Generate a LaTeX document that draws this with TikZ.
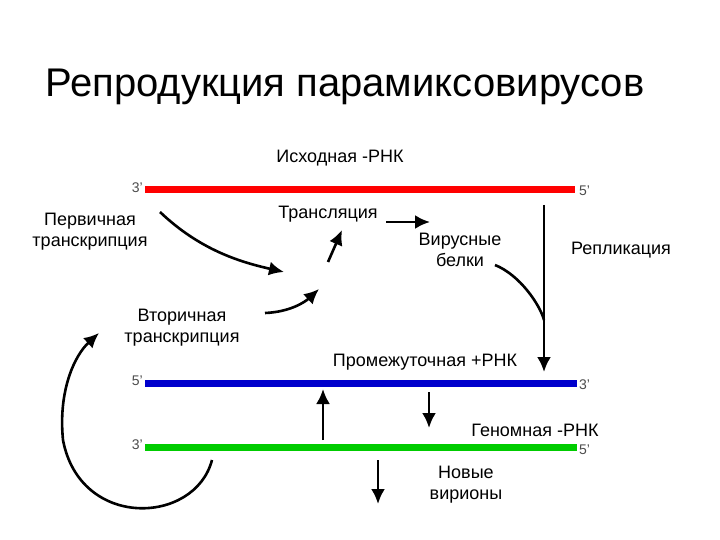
\documentclass[tikz,border=0pt]{standalone}
\usepackage{fontspec}
\setmainfont{Liberation Sans}
\begin{document}
\begin{tikzpicture}[x=1pt,y=-1pt,
 lbl/.style={font=\fontsize{18}{21}\selectfont,align=center,inner sep=0pt},
 end/.style={font=\fontsize{14}{15}\selectfont,text=black!70,inner sep=0pt},
 strand/.style={line width=7pt},
 arr/.style={line width=2.6pt,-{Latex[length=15pt,width=14pt]}}]
\usetikzlibrary{arrows.meta}
\useasboundingbox (0,0) rectangle (720,540);
\node[anchor=base west,inner sep=0pt,font=\fontsize{40}{46}\selectfont] (title) at (45,97) {Репродукция парамиксовирусов};
\node[lbl] (src) at (340,158) {Исходная -РНК};
% strands
\coordinate (r1) at (145,190); \coordinate (r2) at (575,190);
\coordinate (b1) at (145,383); \coordinate (b2) at (577,383);
\coordinate (g1) at (145,447); \coordinate (g2) at (577,447);
\draw[strand,red] (r1) -- (r2);
\draw[strand,blue!80!black] (b1) -- (b2);
\draw[strand,green!80!black] (g1) -- (g2);
\node[end,anchor=east] (r3) at (143,188) {3'};
\node[end,anchor=west] (r5) at (579,191) {5'};
\node[end,anchor=east] (b5) at (143,381) {5'};
\node[end,anchor=west] (b3) at (579,385) {3'};
\node[end,anchor=east] (g3) at (143,445) {3'};
\node[end,anchor=west] (g5) at (579,450) {5'};
% labels
\node[lbl] (prim) at (90,232) {Первичная\\транскрипция};
\node[lbl] (tr) at (328,214) {Трансляция};
\node[lbl] (vp) at (460,250) {Вирусные\\белки};
\node[lbl] (rep) at (621,250) {Репликация};
\node[lbl] (sec) at (182,328) {Вторичная\\транскрипция};
\node[lbl] (inter) at (425,362) {Промежуточная +РНК};
\node[lbl] (gen) at (535,430) {Геномная -РНК};
\node[lbl] (nv) at (466,485) {Новые\\вирионы};
% arrows
\coordinate (p1) at (160,212); \coordinate (p2) at (284,272);
\draw[arr] (p1) .. controls (200,250) and (240,262) .. (p2);
\coordinate (t1) at (328,262); \coordinate (t2) at (342,230);
\draw[arr] (t1) -- (t2);
\coordinate (s1) at (265,313); \coordinate (s2) at (319,289);
\draw[arr] (s1) .. controls (290,312) and (305,302) .. (s2);
\coordinate (tr1) at (386,222); \coordinate (tr2) at (430,222);
\draw[arr] (tr1) -- (tr2);
\coordinate (rp1) at (544,205); \coordinate (rp2) at (544,372);
\draw[arr] (rp1) -- (rp2);
\coordinate (vb1) at (495,265); \coordinate (vb2) at (544,320);
\draw[line width=2.6pt] (vb1) .. controls (520,275) and (540,305) .. (vb2);
\coordinate (u1) at (323,440); \coordinate (u2) at (323,389);
\draw[arr] (u1) -- (u2);
\coordinate (d1) at (429,392); \coordinate (d2) at (429,428);
\draw[arr] (d1) -- (d2);
\coordinate (n1) at (378,460); \coordinate (n2) at (378,504);
\draw[arr] (n1) -- (n2);
\coordinate (c1) at (212,460); \coordinate (c2) at (99,333);
\draw[arr] (c1) .. controls (195,525) and (80,530) .. (63,440) .. controls (58,390) and (75,355) .. (c2);
\end{tikzpicture}
\end{document}
